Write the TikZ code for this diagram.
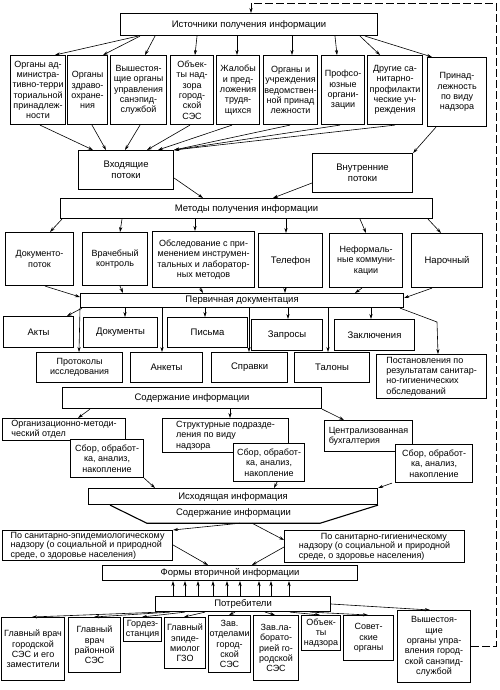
\documentclass[tikz,border=0pt]{standalone}
\usepackage{fontspec}
\setmainfont{Liberation Sans}
\usetikzlibrary{arrows.meta}
\tikzset{
 bx/.style={draw,line width=1.1pt,fill=white,align=center,inner sep=0.5pt,font=\fontsize{9}{10.3}\selectfont},
 big/.style={font=\fontsize{9.5}{11}\selectfont},
 ar/.style={line width=0.6pt,-{Stealth[length=5pt,width=3.2pt]}},
 fb/.style={line width=0.9pt,dash pattern=on 8pt off 3pt},
}
\newcommand\bx[7][]{\node[bx,minimum width={#5-#3},minimum height={#6-#4},anchor=north west,#1] (#2) at (#3,-#4) {#7};}
\begin{document}
\begin{tikzpicture}[x=1pt,y=1pt]
\fill[white] (0,0) rectangle (499,-690);
\useasboundingbox (0,0) rectangle (499,-690);
% top
\bx[big]{src}{120}{13}{377}{35}{Источники получения информации}
\bx{b1}{10}{55}{65}{124}{Органы ад-\\министра-\\тивно-терри\\ториальной\\принадлеж-\\ности}
\bx{b2}{67}{55}{107}{124}{Органы\\здраво-\\охране-\\ния}
\bx{b3}{110}{55}{166}{124}{Вышестоя-\\щие органы\\управления\\санэпид-\\службой}
\bx{b4}{170}{55}{213}{124}{Объек-\\ты над-\\зора\\город-\\ской\\СЭС}
\bx{b5}{216}{55}{259}{124}{Жалобы\\и пред-\\ложения\\трудя-\\щихся}
\bx{b6}{263}{55}{317}{124}{Органы и\\учреждения\\ведомствен-\\ной принад\\лежности}
\bx{b7}{321}{55}{364}{124}{Профсо-\\юзные\\органи-\\зации}
\bx{b8}{367}{55}{422}{124}{Другие са-\\нитарно-\\профилакти\\ческие уч-\\реждения}
\bx{b9}{427}{57}{486}{126}{Принад-\\лежность\\по виду\\надзора}
\bx[big]{vin}{78}{150}{173}{189}{Входящие\\потоки}
\bx[big]{vnu}{312}{153}{412}{192}{Внутренние\\потоки}
\bx[big]{met}{60}{198}{432}{218}{Методы получения информации}
\bx{m1}{5}{232}{73}{285}{Документо-\\поток}
\bx{m2}{82}{232}{147}{285}{Врачебный\\контроль}
\bx{m3}{152}{231}{254}{287}{Обследование с при-\\менением инструмен-\\тальных и лаборатор-\\ных методов}
\bx[big]{m4}{258}{233}{322}{287}{Телефон}
\bx{m5}{329}{233}{402}{287}{Неформаль-\\ные коммуни-\\кации}
\bx[big]{m6}{411}{233}{482}{287}{Нарочный}
\bx[big]{pd}{80}{293}{403}{307}{Первичная документация}
\bx[big]{d1}{3}{316}{73}{347}{Акты}
\bx[big]{d2}{83}{317}{157}{347}{Документы}
\bx[big]{d3}{167}{317}{247}{347}{Письма}
\bx[big]{d4}{251}{319}{322}{350}{Запросы}
\bx[big]{d5}{334}{319}{414}{350}{Заключения}
\bx{e1}{36}{352}{122}{382}{Протоколы\\исследования}
\bx[big]{e2}{130}{352}{202}{382}{Анкеты}
\bx[big]{e3}{211}{352}{287}{382}{Справки}
\bx[big]{e4}{294}{352}{369}{382}{Талоны}
\bx[align=left]{e5}{376}{354}{486}{398}{Постановления по\\результатам санитар-\\но-гигиенических\\обследований}
\bx[big]{c1}{62}{387}{321}{408}{Содержание информации}
\bx[align=left]{org}{2}{418}{125}{440}{Организационно-методи-\\ческий отдел}
\bx{s1}{70}{439}{143}{477}{Сбор, обработ-\\ка, анализ,\\накопление}
\bx[align=left]{str}{162}{418}{288}{452}{Структурные подразде-\\ления по виду\\надзора}
\bx{s2}{233}{443}{304}{481}{Сбор, обработ-\\ка, анализ,\\накопление}
\bx[align=left]{cen}{324}{420}{412}{451}{Централизованная\\бухгалтерия}
\bx{s3}{395}{444}{472}{482}{Сбор, обработ-\\ка, анализ,\\накопление}
\bx[big]{out}{88}{488}{377}{504}{Исходящая информация}
\node[big,minimum width=173,minimum height=19,inner sep=0] (c2) at (233.5,-513.5) {Содержание информации};
\draw[line width=1.1pt] (out.south -| 110,0) -- (c2.south west) -- (c2.south east) -- (out.south east);
\bx[align=left,font=\fontsize{9}{9.6}\selectfont]{lft}{2}{530}{172}{560}{По санитарно-эпидемиологическому\\надзору (о социальной и природной\\среде, о здоровье населения)}
\bx[align=left,font=\fontsize{9}{9.6}\selectfont]{rgt}{284}{530}{464}{562}{\hspace*{22pt}По санитарно-гигиеническому\\надзору (о социальной и природной\\среде, о здоровье населения)}
\bx[big]{frm}{102}{565}{357}{580}{Формы вторичной информации}
\bx[big]{cons}{155}{596}{330}{611}{Потребители}
\bx{p1}{1}{617}{64}{680}{Главный врач\\городской\\СЭС и его\\заместители}
\bx{p2}{68}{617}{120}{672}{Главный\\врач\\районной\\СЭС}
\bx{p3}{123}{617}{161}{641}{Гордез-\\станция}
\bx{p4}{164}{617}{205}{668}{Главный\\эпиде-\\миолог\\ГЗО}
\bx{p5}{208}{615}{250}{672}{Зав.\\отделами\\город-\\ской\\СЭС}
\bx{p6}{253}{615}{298}{680}{Зав.ла-\\борато-\\рией го-\\родской\\СЭС}
\bx{p7}{301}{615}{340}{650}{Объек-\\ты\\надзора}
\bx{p8}{343}{615}{393}{660}{Совет-\\ские\\органы}
\bx{p9}{397}{610}{470}{682}{Вышестоя-\\щие\\органы упра-\\вления город-\\ской санэпид-\\службой}
% arrows src -> row1
\draw[ar] (src.south -| 138,0) -- (b1.north -| 55,0);
\draw[ar] (src.south -| 140,0) -- (b2.north -| 103,0);
\draw[ar] (src.south -| 155,0) -- (b3.north -| 145,0);
\draw[ar] (src.south -| 197,0) -- (b4.north -| 195,0);
\draw[ar] (src.south -| 237,0) -- (b5.north -| 237,0);
\draw[ar] (src.south -| 292,0) -- (b6.north -| 292,0);
\draw[ar] (src.south -| 335,0) -- (b7.north -| 337,0);
\draw[ar] (src.south -| 360,0) -- (b8.north -| 380,0);
\draw[ar] (src.south -| 365,0) -- (b9.north -| 432,0);
% row1 -> streams
\draw[ar] (b1.south -| 40,0) -- (vin.north -| 93,0);
\draw[ar] (b2.south -| 92,0) -- (vin.north -| 106,0);
\draw[ar] (b3.south -| 140,0) -- (vin.north -| 125,0);
\draw[ar] (b4.south -| 190,0) -- (vin.north -| 147,0);
\draw[ar] (b5.south -| 232,0) -- (vin.north -| 158,0);
\draw[ar] (b6.south -| 290,0) -- (vin.north east);
\draw[ar] (b7.south -| 340,0) -- (vin.north east);
\draw[ar] (b8.south -| 395,0) -- (vin.north east);
\draw[ar] (b9.south -| 436,0) -- (vnu.north east);
\draw[ar] (vin.east |- 0,-178) -- (met.north -| 203,0);
\draw[ar] (vnu.west |- 0,-183) -- (met.north -| 273,0);
% methods
\draw[ar] (met.south -| 62,0) -- (m1.north -| 50,0);
\draw[ar] (met.south -| 122,0) -- (m2.north -| 120,0);
\draw[ar] (met.south -| 195,0) -- (m3.north -| 195,0);
\draw[ar] (met.south -| 286,0) -- (m4.north -| 286,0);
\draw[ar] (met.south -| 360,0) -- (m5.north -| 366,0);
\draw[ar] (met.south -| 428,0) -- (m6.north -| 441,0);
\draw[ar] (m1.south -| 45,0) -- (pd.west |- 0,-297);
\draw[ar] (m2.south -| 120,0) -- (pd.north -| 123,0);
\draw[ar] (m3.south -| 200,0) -- (pd.north -| 203,0);
\draw[ar] (m4.south -| 285,0) -- (pd.north -| 285,0);
\draw[ar] (m5.south -| 362,0) -- (pd.north -| 355,0);
\draw[ar] (m6.south -| 432,0) -- (pd.east |- 0,-298);
% primary docs
\draw[ar] (pd.south -| 82,0) -- (d1.north -| 67,0);
\draw[ar] (pd.south -| 125,0) -- (d2.north -| 125,0);
\draw[ar] (pd.south -| 205,0) -- (d3.north -| 205,0);
\draw[ar] (pd.south -| 288,0) -- (d4.north -| 288,0);
\draw[ar] (pd.south -| 371,0) -- (d5.north -| 371,0);
\draw[ar] (pd.south -| 80,0) -- (e1.north -| 79,0);
\draw[ar] (pd.south -| 162,0) -- (e2.north -| 162,0);
\draw[ar] (pd.south -| 249,0) -- (e3.north -| 249,0);
\draw[ar] (pd.south -| 328,0) -- (e4.north -| 328,0);
\coordinate (k5) at (437,-322);
\draw[ar] (pd.south -| 400,0) -- (k5) -- (e5.north -| 438,0);
% content
\draw[ar] (c1.south -| 90,0) -- (org.north -| 78,0);
\draw[ar] (c1.south -| 230,0) -- (str.north -| 230,0);
\draw[ar] (c1.south east) -- (cen.north -| 344,0);
\draw[ar] (s1.south east) -- (out.north -| 155,0);
\draw[ar] (s2.south -| 277,0) -- (out.north -| 274,0);
\draw[ar] (s3.south -| 392,0) -- (out.north east);
\draw[ar] (c2.south -| 240,0) -- (lft.north east);
\draw[ar] (c2.south -| 252,0) -- (rgt.west |- 0,-540);
\draw[ar] (lft.east |- 0,-545) -- (frm.north -| 208,0);
\draw[ar] (rgt.west |- 0,-547) -- (frm.north -| 252,0);
\foreach \x in {173,185,198,213,227,240,259,271,289} \draw[ar] (cons.north -| \x,0) -- (frm.south -| \x,0);
% consumers
\draw[ar] (cons.south -| 160,0) -- (p1.north -| 32,0);
\draw[ar] (cons.south -| 170,0) -- (p2.north -| 94,0);
\draw[ar] (cons.south -| 185,0) -- (p3.north -| 142,0);
\draw[ar] (cons.south -| 205,0) -- (p4.north -| 184,0);
\draw[ar] (cons.south -| 235,0) -- (p5.north -| 229,0);
\draw[ar] (cons.south -| 265,0) -- (p6.north -| 275,0);
\draw[ar] (cons.south -| 290,0) -- (p7.north -| 320,0);
\draw[ar] (cons.south -| 310,0) -- (p8.north -| 368,0);
\draw[ar] (cons.east |- 0,-604) -- (p9.north -| 430,0);
% feedback
\coordinate (fb1) at (496,-646);
\coordinate (fb2) at (496,-3);
\coordinate (fb3) at (251,-3);
\draw[fb] (p9.east |- 0,-646) -- (fb1) -- (fb2) -- (fb3);
\draw[ar] (fb3) -- (src.north -| 251,0);
\end{tikzpicture}
\end{document}
